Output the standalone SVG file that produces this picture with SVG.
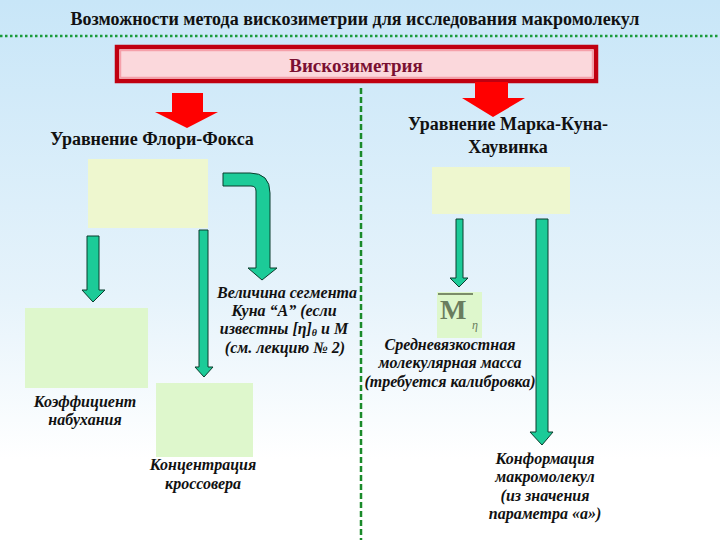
<svg xmlns="http://www.w3.org/2000/svg" width="720" height="540" viewBox="0 0 720 540">
<defs>
<linearGradient id="bg" x1="0" y1="0" x2="0" y2="1">
<stop offset="0" stop-color="#c8e6f8"/>
<stop offset="0.55" stop-color="#e6f3fb"/>
<stop offset="0.85" stop-color="#ffffff"/>
<stop offset="1" stop-color="#ffffff"/>
</linearGradient>
<style>
.ta{fill:#1ccb98;stroke:#0b3d2c;stroke-width:1}
.red{fill:#ff0000}
.yb{fill:#eef7cf}
.gb{fill:#def7cc}
</style>
</defs>
<rect width="720" height="540" fill="url(#bg)"/>
<text x="355" y="25" font-family="Liberation Serif, serif" font-weight="bold" font-size="18" fill="#111" text-anchor="middle">Возможности метода вискозиметрии для исследования макромолекул</text>
<line x1="0" y1="36" x2="720" y2="36" stroke="#1a9a3a" stroke-width="2.5" stroke-dasharray="2.5,2.5"/>
<g id="viscometry">
<rect x="117" y="47" width="479" height="34" fill="#fbd8dc" stroke="#c00010" stroke-width="4.5"/>
<rect x="120.5" y="50.5" width="472" height="27" fill="none" stroke="#f5a0aa" stroke-width="1.5"/>
<text x="356" y="72" font-family="Liberation Serif, serif" font-size="19" font-weight="bold" fill="#7a1032" text-anchor="middle">Вискозиметрия</text>
</g>
<line x1="361" y1="88" x2="361" y2="540" stroke="#1a8a2a" stroke-width="2.5" stroke-dasharray="6,3"/>
<g id="connectors">
<polygon class="red" points="172,93 203,93 203,112 218,112 187,128 155,112 172,112"/>
<polygon class="red" points="475,82 508,82 508,98 525,98 493,117 462,98 475,98"/>
<path class="ta" d="M223,173 L250,173 Q270,173 270,193 L270,268 L277,268 L262,280 L248,268 L256,268 L256,191 Q256,186 251,186 L223,186 Z"/>
<polygon class="ta" points="87,236 99,236 99,290 105,290 93,302 82,290 87,290"/>
<polygon class="ta" points="199,230 208,230 208,367 213,367 204,377 195,367 199,367"/>
<polygon class="ta" points="456,219 463,219 463,278 468,278 459,287 450,278 456,278"/>
<polygon class="ta" points="536,219 548,219 548,432 553,432 542,445 530,432 536,432"/>
</g>
<g id="flory-fox">
<text x="152" y="145" font-family="Liberation Serif, serif" font-weight="bold" font-size="18" fill="#111" text-anchor="middle">Уравнение Флори-Фокса</text>
<rect class="yb" x="88" y="159" width="120" height="69"/>
</g>
<g id="mark-kuhn">
<text x="508" y="130" font-family="Liberation Serif, serif" font-weight="bold" font-size="18" fill="#111" text-anchor="middle">Уравнение Марка-Куна-</text>
<text x="508" y="153" font-family="Liberation Serif, serif" font-weight="bold" font-size="18" fill="#111" text-anchor="middle">Хаувинка</text>
<rect class="yb" x="432" y="167" width="138" height="47"/>
</g>
<g id="kuhn-segment" font-family="Liberation Serif, serif" font-weight="bold" font-style="italic" font-size="16" fill="#111" text-anchor="middle">
<text x="287" y="298">Величина сегмента</text>
<text x="284" y="316">Куна “А” (если</text>
<text x="284" y="334">известны [η]<tspan font-size="10" dy="2">θ</tspan><tspan dy="-2"> и М</tspan></text>
<text x="285" y="353">(см. лекцию № 2)</text>
</g>
<g id="swelling">
<rect class="gb" x="25" y="308" width="123" height="80"/>
<g font-family="Liberation Serif, serif" font-weight="bold" font-style="italic" font-size="16" fill="#111" text-anchor="middle">
<text x="85" y="407">Коэффициент</text>
<text x="85" y="425">набухания</text>
</g>
</g>
<g id="crossover">
<rect class="gb" x="156" y="383" width="97" height="74"/>
<g font-family="Liberation Serif, serif" font-weight="bold" font-style="italic" font-size="16" fill="#111" text-anchor="middle">
<text x="203" y="470">Концентрация</text>
<text x="203" y="489">кроссовера</text>
</g>
</g>
<g id="mw">
<rect class="gb" x="437" y="292" width="45" height="46"/>
<line x1="438" y1="294" x2="473" y2="294" stroke="#5a6a4a" stroke-width="1.5"/>
<text x="440" y="319" font-family="Liberation Serif, serif" font-weight="bold" font-size="28" fill="#6a7d5e">M</text>
<text x="472" y="329" font-family="Liberation Serif, serif" font-style="italic" font-size="12" fill="#6a7d5e">η</text>
<g font-family="Liberation Serif, serif" font-weight="bold" font-style="italic" font-size="16" fill="#111" text-anchor="middle">
<text x="450" y="350">Средневязкостная</text>
<text x="450" y="368">молекулярная масса</text>
<text x="450" y="387">(требуется калибровка)</text>
</g>
</g>
<g id="conformation" font-family="Liberation Serif, serif" font-weight="bold" font-style="italic" font-size="16" fill="#111" text-anchor="middle">
<text x="545" y="464">Конформация</text>
<text x="545" y="482">макромолекул</text>
<text x="545" y="501">(из значения</text>
<text x="545" y="519">параметра «а»)</text>
</g>
</svg>
